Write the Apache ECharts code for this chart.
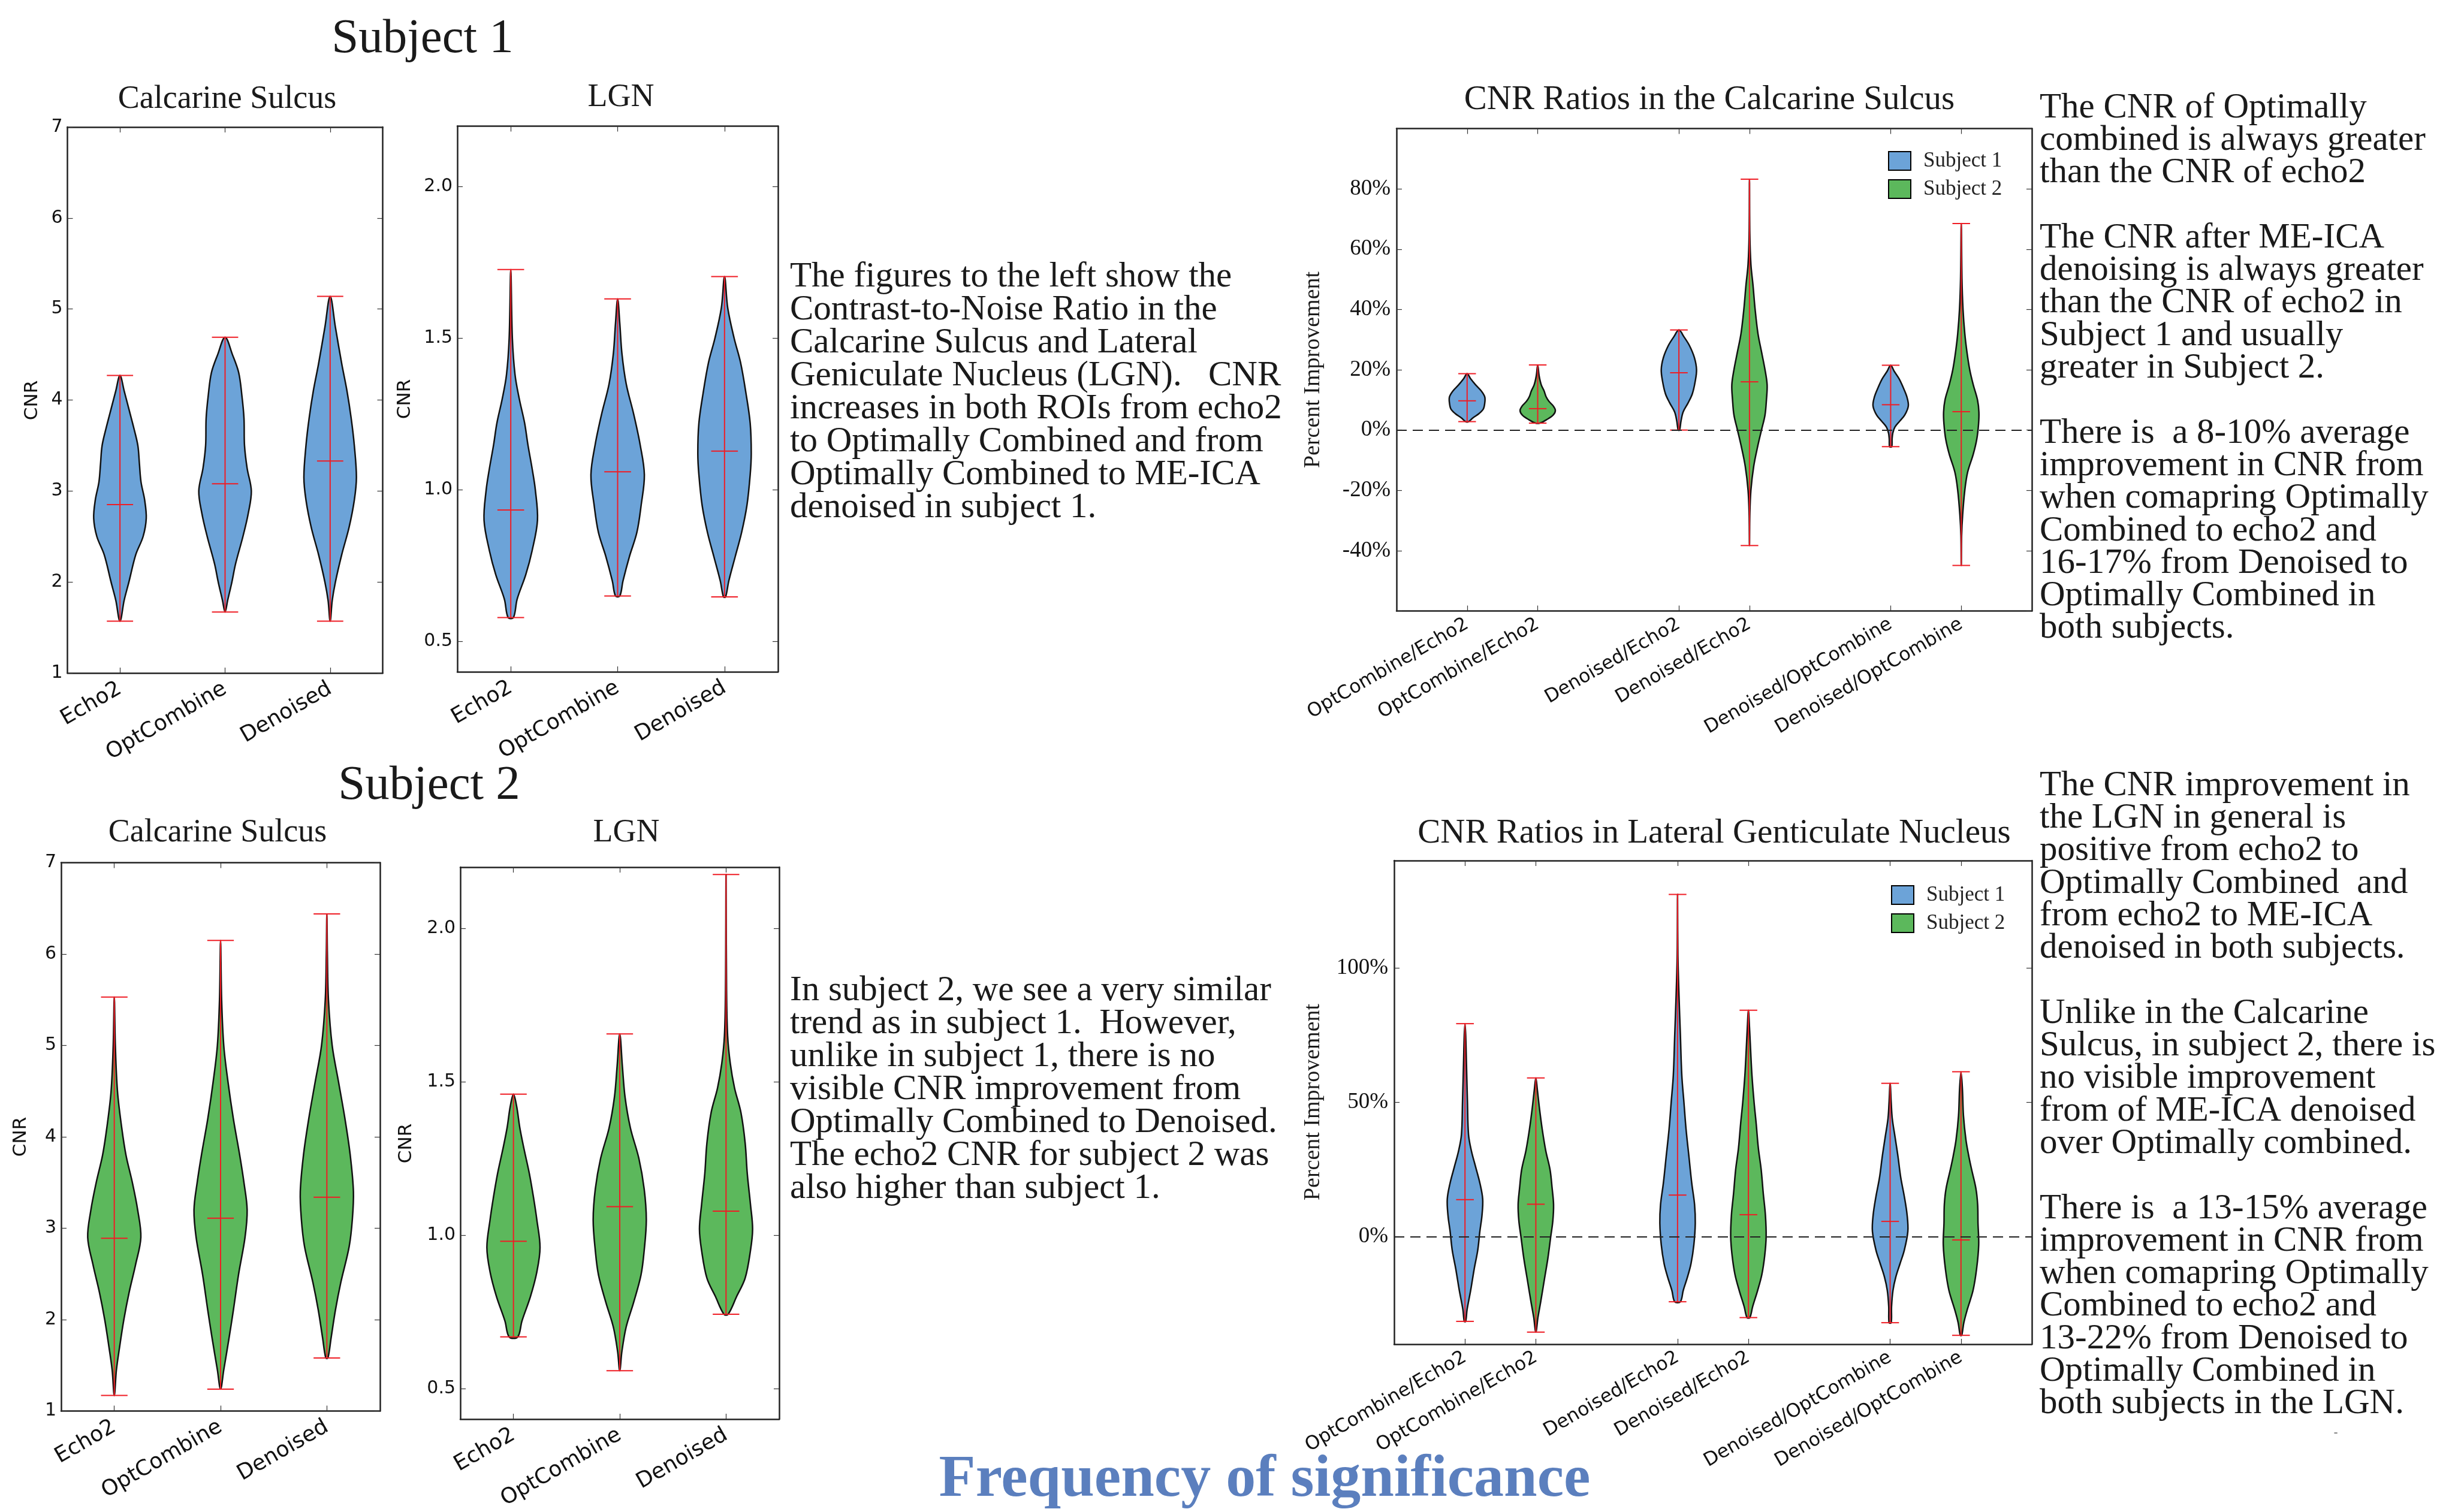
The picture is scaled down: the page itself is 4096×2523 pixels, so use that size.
<!DOCTYPE html>
<html>
<head>
<meta charset="utf-8">
<script src="https://cdn.jsdelivr.net/npm/echarts@6/dist/echarts.min.js"></script>
<style>html,body{margin:0;padding:0;background:#fff}#chart{width:4096px;height:2523px}</style>
</head>
<body>
<div id="chart"></div>
<script>
// categories and tick labels
var cnrLabels = ['Echo2', 'OptCombine', 'Denoised'];
var cnrPos = [1, 2, 3];
var ratioLabels = ['OptCombine/Echo2', 'OptCombine/Echo2', 'Denoised/Echo2', 'Denoised/Echo2', 'Denoised/OptCombine', 'Denoised/OptCombine'];
var ratioPos = [1, 2, 4, 5, 7, 8];
var ratioSubject = [1, 2, 1, 2, 1, 2];
var lgnTicks = [0.5, 1.0, 1.5, 2.0];
var csRatioTicks = [-60, -40, -20, 0, 20, 40, 60, 80, 100];
var csRatioLabelVals = [-40, -20, 0, 20, 40, 60, 80];
var lgnRatioTicks = [0, 50, 100];

// [min, centre, max] of each violin
var s1CsStats = [[1.57, 2.85, 4.27], [1.67, 3.08, 4.69], [1.57, 3.33, 5.14]];
var s1LgnStats = [[0.579, 0.934, 1.727], [0.65, 1.06, 1.63], [0.647, 1.128, 1.704]];
var s2CsStats = [[1.17, 2.89, 5.53], [1.24, 3.11, 6.15], [1.58, 3.34, 6.44]];
var s2LgnStats = [[0.668, 0.98, 1.46], [0.558, 1.093, 1.656], [0.742, 1.078, 2.176]];
var csRatioStats = [[2.8, 9.7, 18.7], [2.3, 7.1, 21.6], [0, 19.0, 33.2], [-38.3, 16.0, 83.2], [-5.5, 8.4, 21.5], [-44.9, 6.1, 68.5]];
var lgnRatioStats = [[-31.5, 13.8, 79.3], [-35.5, 12.1, 59.1], [-24.2, 15.5, 127.4], [-30.1, 8.2, 84.3], [-32.0, 5.7, 57.1], [-36.7, -1.2, 61.4]];

// violin outlines: [value, half width]
var s1CsShape = [
  [[1.57,0],[1.8,0.04],[2.0,0.085],[2.3,0.15],[2.5,0.22],[2.7,0.25],[2.9,0.235],[3.1,0.2],[3.3,0.185],[3.5,0.17],[3.7,0.13],[3.9,0.085],[4.1,0.04],[4.27,0]],
  [[1.67,0],[1.8,0.025],[2.0,0.065],[2.2,0.1],[2.5,0.17],[2.75,0.22],[3.0,0.25],[3.25,0.21],[3.5,0.185],[3.8,0.18],[4.05,0.16],[4.3,0.13],[4.5,0.07],[4.69,0]],
  [[1.57,0],[1.8,0.02],[2.0,0.05],[2.3,0.11],[2.6,0.18],[2.9,0.23],[3.15,0.25],[3.5,0.23],[3.8,0.2],[4.1,0.16],[4.4,0.11],[4.8,0.05],[5.14,0]]
];
var s1LgnShape = [
  [[0.579,0.025],[0.64,0.06],[0.72,0.14],[0.8,0.2],[0.9,0.25],[1.0,0.23],[1.07,0.2],[1.15,0.16],[1.22,0.13],[1.3,0.08],[1.38,0.04],[1.5,0.015],[1.727,0]],
  [[0.65,0.02],[0.7,0.05],[0.78,0.11],[0.86,0.18],[0.95,0.22],[1.05,0.25],[1.15,0.21],[1.25,0.15],[1.35,0.08],[1.45,0.04],[1.55,0.02],[1.63,0]],
  [[0.647,0.01],[0.7,0.04],[0.78,0.1],[0.86,0.16],[0.95,0.21],[1.05,0.24],[1.12,0.25],[1.22,0.24],[1.32,0.2],[1.42,0.15],[1.5,0.09],[1.6,0.03],[1.704,0]]
];
var s2CsShape = [
  [[1.17,0],[1.45,0.02],[1.7,0.05],[2.0,0.09],[2.3,0.14],[2.6,0.2],[2.9,0.25],[3.2,0.22],[3.5,0.17],[3.8,0.11],[4.1,0.07],[4.5,0.03],[5.0,0.01],[5.53,0]],
  [[1.24,0],[1.45,0.03],[1.8,0.08],[2.1,0.12],[2.5,0.17],[2.9,0.23],[3.2,0.25],[3.5,0.22],[3.8,0.18],[4.2,0.12],[4.6,0.07],[5.0,0.03],[5.5,0.01],[6.15,0]],
  [[1.58,0.01],[1.8,0.04],[2.1,0.08],[2.4,0.13],[2.8,0.21],[3.1,0.24],[3.4,0.25],[3.8,0.22],[4.2,0.17],[4.6,0.11],[5.0,0.05],[5.5,0.015],[6.0,0.005],[6.44,0]]
];
var s2LgnShape = [
  [[0.668,0.04],[0.72,0.08],[0.8,0.16],[0.88,0.22],[0.96,0.25],[1.05,0.22],[1.12,0.19],[1.2,0.15],[1.28,0.1],[1.35,0.06],[1.42,0.03],[1.46,0]],
  [[0.558,0],[0.62,0.02],[0.7,0.06],[0.78,0.13],[0.87,0.2],[0.95,0.23],[1.05,0.25],[1.15,0.23],[1.25,0.18],[1.35,0.1],[1.45,0.05],[1.55,0.025],[1.656,0]],
  [[0.742,0.02],[0.8,0.1],[0.86,0.18],[0.95,0.23],[1.02,0.25],[1.1,0.23],[1.2,0.2],[1.3,0.18],[1.4,0.14],[1.48,0.08],[1.56,0.04],[1.65,0.015],[1.8,0.005],[2.176,0]]
];
var csRatioShape = [
  [[2.8,0.02],[4,0.08],[5.5,0.17],[7,0.23],[9,0.25],[11,0.25],[13,0.2],[15,0.12],[17,0.05],[18.7,0]],
  [[2.3,0.03],[3.5,0.13],[5,0.22],[6.5,0.25],[8,0.22],[9.5,0.16],[11,0.12],[13,0.09],[15,0.05],[18,0.02],[21.6,0]],
  [[0,0.01],[3,0.03],[6,0.06],[9,0.13],[12,0.19],[16,0.23],[20,0.25],[24,0.22],[28,0.15],[31,0.07],[33.2,0]],
  [[-38.3,0],[-28,0.005],[-20,0.02],[-12,0.06],[-5,0.12],[0,0.17],[5,0.22],[10,0.24],[15,0.25],[20,0.22],[26,0.17],[32,0.12],[40,0.08],[48,0.05],[55,0.02],[65,0.005],[83.2,0]],
  [[-5.5,0.015],[-3,0.02],[-1,0.03],[1,0.06],[3,0.13],[5,0.2],[8,0.25],[11,0.23],[14,0.18],[17,0.12],[19.5,0.05],[21.5,0]],
  [[-44.9,0],[-35,0.005],[-28,0.02],[-20,0.05],[-14,0.09],[-8,0.17],[-3,0.22],[2,0.245],[6,0.25],[10,0.23],[15,0.17],[20,0.12],[26,0.08],[32,0.05],[40,0.025],[50,0.01],[68.5,0]]
];
var lgnRatioShape = [
  [[-31.5,0.01],[-27,0.03],[-20,0.08],[-12,0.13],[-5,0.18],[2,0.21],[8,0.24],[14,0.25],[20,0.21],[26,0.15],[32,0.09],[38,0.05],[50,0.035],[65,0.02],[75,0.01],[79.3,0]],
  [[-35.5,0],[-30,0.03],[-24,0.07],[-16,0.12],[-8,0.17],[0,0.21],[6,0.24],[12,0.25],[18,0.23],[25,0.2],[32,0.14],[40,0.09],[48,0.05],[55,0.02],[59.1,0]],
  [[-24.2,0.04],[-20,0.08],[-15,0.14],[-10,0.19],[-3,0.23],[5,0.25],[12,0.24],[20,0.2],[30,0.16],[40,0.12],[50,0.09],[60,0.06],[75,0.04],[90,0.02],[105,0.005],[127.4,0]],
  [[-30.1,0.02],[-26,0.06],[-20,0.13],[-14,0.19],[-7,0.23],[0,0.25],[8,0.24],[16,0.21],[25,0.18],[33,0.14],[42,0.11],[50,0.08],[60,0.05],[70,0.03],[78,0.015],[84.3,0]],
  [[-32,0.015],[-26,0.02],[-20,0.04],[-15,0.08],[-10,0.14],[-5,0.2],[2,0.25],[8,0.24],[15,0.2],[22,0.15],[30,0.11],[37,0.07],[44,0.03],[50,0.015],[57.1,0]],
  [[-36.7,0.01],[-32,0.04],[-27,0.09],[-20,0.17],[-12,0.22],[-3,0.25],[5,0.24],[12,0.235],[18,0.21],[25,0.15],[30,0.11],[36,0.07],[45,0.035],[55,0.02],[61.4,0]]
];

var BLUE = '#6ca3d8', GREEN = '#5cb85c', RED = '#ef1d25', EDGE = '#111';
var SERIF = '"Liberation Serif", serif';
var SANS = '"DejaVu Sans", sans-serif';

var chart = echarts.init(document.getElementById('chart'));

var grids = [
  {left: 112.5, top: 212, width: 526, height: 911},
  {left: 763, top: 210.5, width: 535, height: 910.5},
  {left: 2330, top: 214.5, width: 1060, height: 805},
  {left: 102, top: 1439.5, width: 532, height: 915},
  {left: 768, top: 1447, width: 532, height: 921},
  {left: 2326, top: 1436, width: 1064, height: 807}
];
grids.forEach(function (g) { g.outerBoundsMode = 'none'; g.containLabel = false; });

var xAxes = [], yAxes = [];
function addAxes(g, c) {
  var line = {show: true, onZero: false, lineStyle: {color: '#222', width: 2.5}};
  function tick(vals) {
    return {show: true, inside: true, length: 9, customValues: vals, lineStyle: {color: '#333', width: 1.2}};
  }
  xAxes.push({gridIndex: g, type: 'value', min: c.xMin, max: c.xMax, position: 'bottom',
    axisLine: line, axisTick: tick(c.xTicks), splitLine: {show: false},
    axisLabel: {customValues: c.xTicks, formatter: c.xFmt, rotate: 30, margin: c.xMargin,
      fontFamily: SANS, fontSize: c.xSize, color: '#111'}});
  xAxes.push({gridIndex: g, type: 'value', min: c.xMin, max: c.xMax, position: 'top',
    axisLine: line, axisTick: tick(c.xTicks), splitLine: {show: false}, axisLabel: {show: false}});
  yAxes.push({gridIndex: g, type: 'value', min: c.yMin, max: c.yMax, position: 'left',
    axisLine: line, axisTick: tick(c.yTicks), splitLine: {show: false},
    axisLabel: {customValues: c.yLabels, formatter: c.yFmt, margin: c.yMargin,
      fontFamily: c.yFont, fontSize: c.ySize, color: '#111'}});
  yAxes.push({gridIndex: g, type: 'value', min: c.yMin, max: c.yMax, position: 'right',
    axisLine: line, axisTick: tick(c.yTicks), splitLine: {show: false}, axisLabel: {show: false}});
}

var cnrFmt = function (v) { return cnrLabels[cnrPos.indexOf(v)]; };
var ratioFmt = function (v) { return ratioLabels[ratioPos.indexOf(v)]; };
var cnrY = {yMin: 1, yMax: 7, yTicks: [1, 2, 3, 4, 5, 6, 7], yLabels: [1, 2, 3, 4, 5, 6, 7],
  yFmt: function (v) { return String(v); }, yFont: SANS, ySize: 30, yMargin: 8};
var lgnY = {yMin: 0.4, yMax: 2.2, yTicks: lgnTicks, yLabels: lgnTicks,
  yFmt: function (v) { return v.toFixed(1); }, yFont: SANS, ySize: 30, yMargin: 8};
var cnrX = {xMin: 0.5, xMax: 3.5, xTicks: cnrPos, xFmt: cnrFmt, xSize: 36, xMargin: 24};
var ratioX = {xMin: 0, xMax: 9, xTicks: ratioPos, xFmt: ratioFmt, xSize: 31.5, xMargin: 20};

addAxes(0, Object.assign({}, cnrX, cnrY));
addAxes(1, Object.assign({}, cnrX, lgnY));
addAxes(2, Object.assign({}, ratioX, {yMin: -60, yMax: 100, yTicks: csRatioTicks, yLabels: csRatioLabelVals,
  yFmt: function (v) { return v + '%'; }, yFont: SERIF, ySize: 37, yMargin: 10}));
addAxes(3, Object.assign({}, cnrX, cnrY));
addAxes(4, Object.assign({}, cnrX, lgnY));
addAxes(5, Object.assign({}, ratioX, {yMin: -40, yMax: 140, yTicks: lgnRatioTicks, yLabels: lgnRatioTicks,
  yFmt: function (v) { return v + '%'; }, yFont: SERIF, ySize: 37, yMargin: 10}));

function violinRender(shapes, fill) {
  return function (params, api) {
    var x = api.value(0), lo = api.value(1), mid = api.value(2), hi = api.value(3), i = api.value(4);
    var prof = shapes[i];
    var pts = [], k;
    for (k = 0; k < prof.length; k++) pts.push(api.coord([x - prof[k][1], prof[k][0]]));
    for (k = prof.length - 1; k >= 0; k--) {
      if (prof[k][1] > 0) pts.push(api.coord([x + prof[k][1], prof[k][0]]));
    }
    var cap = 0.125;
    function seg(a, b) {
      return {type: 'line', shape: {x1: a[0], y1: a[1], x2: b[0], y2: b[1]}, style: {stroke: RED, lineWidth: 2}};
    }
    return {type: 'group', children: [
      {type: 'polygon', shape: {points: pts, smooth: 0.35}, style: {fill: fill, stroke: EDGE, lineWidth: 2.5}},
      seg(api.coord([x, lo]), api.coord([x, hi])),
      seg(api.coord([x - cap, lo]), api.coord([x + cap, lo])),
      seg(api.coord([x - cap, mid]), api.coord([x + cap, mid])),
      seg(api.coord([x - cap, hi]), api.coord([x + cap, hi]))
    ]};
  };
}

function violins(name, g, xs, stats, shapes, fill, keep) {
  var data = [];
  xs.forEach(function (x, i) {
    if (!keep || keep(i)) data.push([x, stats[i][0], stats[i][1], stats[i][2], i]);
  });
  return {type: 'custom', name: name, xAxisIndex: 2 * g, yAxisIndex: 2 * g, data: data,
    itemStyle: {color: fill, borderColor: '#000', borderWidth: 2},
    renderItem: violinRender(shapes, fill), silent: true};
}

var zeroLine = {silent: true, symbol: 'none', label: {show: false},
  lineStyle: {type: [17, 10], color: '#222', width: 2}, data: [{yAxis: 0}]};

var series = [
  violins('Subject 1', 0, cnrPos, s1CsStats, s1CsShape, BLUE),
  violins('Subject 1', 1, cnrPos, s1LgnStats, s1LgnShape, BLUE),
  violins('Subject 2', 3, cnrPos, s2CsStats, s2CsShape, GREEN),
  violins('Subject 2', 4, cnrPos, s2LgnStats, s2LgnShape, GREEN)
];
[[2, csRatioStats, csRatioShape], [5, lgnRatioStats, lgnRatioShape]].forEach(function (r) {
  var s1 = violins('Subject 1', r[0], ratioPos, r[1], r[2], BLUE, function (i) { return ratioSubject[i] === 1; });
  var s2 = violins('Subject 2', r[0], ratioPos, r[1], r[2], GREEN, function (i) { return ratioSubject[i] === 2; });
  s1.markLine = zeroLine;
  series.push(s1, s2);
});

function legendAt(left, top) {
  return {data: ['Subject 1', 'Subject 2'], orient: 'vertical', left: left, top: top, padding: 0,
    itemWidth: 37, itemHeight: 31, itemGap: 12, icon: 'rect', selectedMode: false,
    itemStyle: {borderColor: '#000', borderWidth: 2},
    textStyle: {fontFamily: SERIF, fontSize: 35, color: '#222', padding: [0, 0, 0, 16]}};
}

function label(x, y, text, size, opts) {
  opts = opts || {};
  return {type: 'text', x: x, y: y, rotation: opts.rotation || 0, silent: true,
    style: {text: text, fontFamily: opts.font || SERIF, fontSize: size, fontWeight: opts.weight || 'normal',
      fill: opts.color || '#1a1a1a', align: opts.align || 'center', verticalAlign: opts.valign || 'middle',
      lineHeight: opts.lineHeight}};
}

var para1 = 'The figures to the left show the\nContrast-to-Noise Ratio in the\nCalcarine Sulcus and Lateral\nGeniculate Nucleus (LGN).   CNR\nincreases in both ROIs from echo2\nto Optimally Combined and from\nOptimally Combined to ME-ICA\ndenoised in subject 1.';
var para2 = 'In subject 2, we see a very similar\ntrend as in subject 1.  However,\nunlike in subject 1, there is no\nvisible CNR improvement from\nOptimally Combined to Denoised.\nThe echo2 CNR for subject 2 was\nalso higher than subject 1.';
var para3 = 'The CNR of Optimally\ncombined is always greater\nthan the CNR of echo2\n\nThe CNR after ME-ICA\ndenoising is always greater\nthan the CNR of echo2 in\nSubject 1 and usually\ngreater in Subject 2.\n\nThere is  a 8-10% average\nimprovement in CNR from\nwhen comapring Optimally\nCombined to echo2 and\n16-17% from Denoised to\nOptimally Combined in\nboth subjects.';
var para4 = 'The CNR improvement in\nthe LGN in general is\npositive from echo2 to\nOptimally Combined  and\nfrom echo2 to ME-ICA\ndenoised in both subjects.\n\nUnlike in the Calcarine\nSulcus, in subject 2, there is\nno visible improvement\nfrom of ME-ICA denoised\nover Optimally combined.\n\nThere is  a 13-15% average\nimprovement in CNR from\nwhen comapring Optimally\nCombined to echo2 and\n13-22% from Denoised to\nOptimally Combined in\nboth subjects in the LGN.';

var R90 = Math.PI / 2;
var graphics = [
  label(705, 66, 'Subject 1', 81),
  label(716, 1312, 'Subject 2', 81),
  label(379, 166, 'Calcarine Sulcus', 54),
  label(1036, 163, 'LGN', 54),
  label(363, 1390, 'Calcarine Sulcus', 54),
  label(1045, 1390, 'LGN', 54),
  label(2852, 167, 'CNR Ratios in the Calcarine Sulcus', 57),
  label(2860, 1391, 'CNR Ratios in Lateral Genticulate Nucleus', 57),
  label(54, 668, 'CNR', 31, {font: SANS, rotation: R90, color: '#111'}),
  label(676, 666, 'CNR', 31, {font: SANS, rotation: R90, color: '#111'}),
  label(35, 1897, 'CNR', 31, {font: SANS, rotation: R90, color: '#111'}),
  label(678, 1908, 'CNR', 31, {font: SANS, rotation: R90, color: '#111'}),
  label(2191, 617, 'Percent Improvement', 38, {rotation: R90}),
  label(2191, 1839, 'Percent Improvement', 38, {rotation: R90}),
  label(1318, 435, para1, 59, {align: 'left', valign: 'top', lineHeight: 55}),
  label(1318, 1626, para2, 59, {align: 'left', valign: 'top', lineHeight: 55}),
  label(3403, 153, para3, 59, {align: 'left', valign: 'top', lineHeight: 54.3}),
  label(3403, 1284, para4, 59, {align: 'left', valign: 'top', lineHeight: 54.3}),
  label(3897, 2391, '-', 20, {color: '#666'}),
  label(2110, 2470, 'Frequency of significance', 100, {weight: 'bold', color: '#5b7fbe'})
];

chart.setOption({
  animation: false,
  backgroundColor: '#fff',
  grid: grids,
  xAxis: xAxes,
  yAxis: yAxes,
  legend: [legendAt(3150, 251), legendAt(3155, 1476)],
  series: series,
  graphic: graphics
});
</script>
</body>
</html>
